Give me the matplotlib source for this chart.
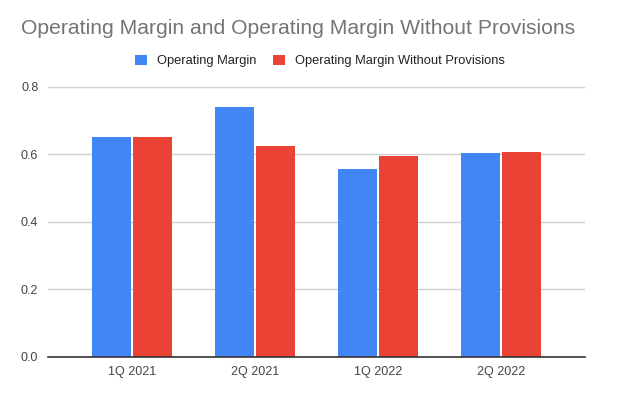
import matplotlib
matplotlib.use("Agg")
import matplotlib.pyplot as plt
import numpy as np

categories = ["1Q 2021", "2Q 2021", "1Q 2022", "2Q 2022"]
operating_margin = [0.652, 0.741, 0.557, 0.604]
margin_wo_provisions = [0.652, 0.623, 0.595, 0.607]
series_names = ["Operating Margin", "Operating Margin Without Provisions"]
yticks = [0.0, 0.2, 0.4, 0.6, 0.8]

plt.rcParams['font.family'] = ['Liberation Sans', 'DejaVu Sans']

fig = plt.figure(figsize=(6.4, 3.96), dpi=100)
ax = fig.add_axes([0.075, 0.0992, 0.839, 0.6818])

x = np.arange(len(categories))
w = 0.317
b1 = ax.bar(x - w/2 - 0.008, operating_margin, width=w, color="#4285F4", label=series_names[0], zorder=3)
b2 = ax.bar(x + w/2 + 0.008, margin_wo_provisions, width=w, color="#EA4335", label=series_names[1], zorder=3)

ax.set_xlim(-0.683, 3.683)
ax.set_ylim(0, 0.8)
ax.set_yticks(yticks)
ax.set_yticklabels([f"{v:.1f}" for v in yticks])
ax.set_xticks(x)
ax.set_xticklabels(categories)
ax.grid(axis='y', color="#d0d0d0", linewidth=1, zorder=0)
for s in ["top", "right", "left"]:
    ax.spines[s].set_visible(False)
ax.spines["bottom"].set_color("#333333")
ax.spines["bottom"].set_linewidth(1.2)
ax.spines["bottom"].set_zorder(4)
ax.tick_params(axis='both', length=0, labelsize=9, colors="#444444")
ax.tick_params(axis='y', pad=7)
ax.tick_params(axis='x', pad=7)

fig.text(21/640, 1 - 29/396, "Operating Margin and Operating Margin Without Provisions",
         fontsize=15.2, color="#757575", va="center", ha="left")

fig.legend(handles=[b1, b2], labels=series_names, loc="center", ncol=2,
           bbox_to_anchor=(320/640, 1 - 61/396), frameon=False, fontsize=9.25,
           handlelength=0.93, handleheight=0.93, handletextpad=0.74, columnspacing=1.33,
           labelcolor="#222222")

fig.savefig("out.png", dpi=100)
